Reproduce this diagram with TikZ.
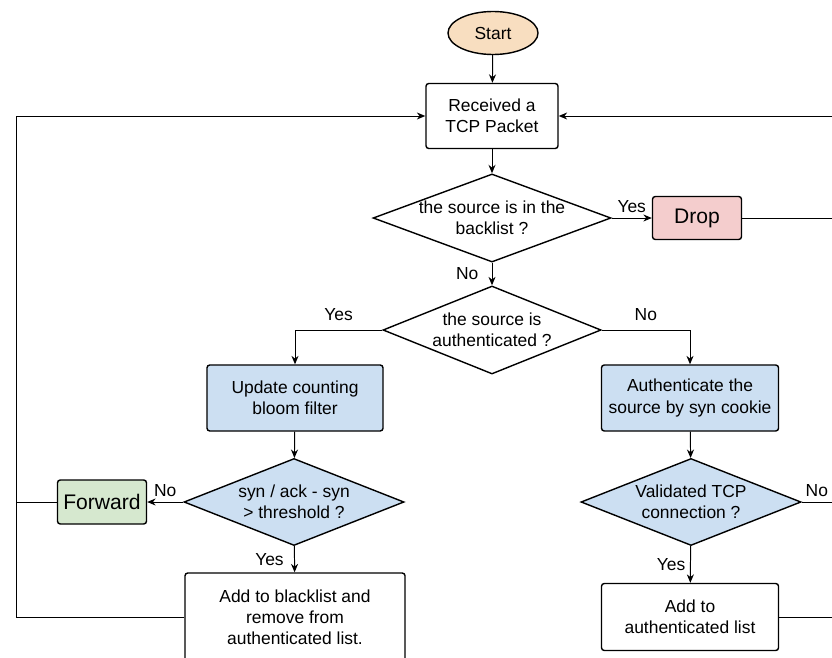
\documentclass[tikz,border=0pt]{standalone}
\usepackage{fontspec}
\setmainfont{Liberation Sans}
\usetikzlibrary{shapes.geometric, arrows.meta}

\definecolor{startfill}{HTML}{F8DEC0}
\definecolor{dropfill}{HTML}{F4CDCD}
\definecolor{procfill}{HTML}{CCDFF2}
\definecolor{fwdfill}{HTML}{D6E8CF}

\begin{document}
\begin{tikzpicture}[>={Stealth[length=6pt, width=5pt]}, x=0.025cm, y=-0.025cm,
        font=\fontsize{12.4}{15}\selectfont, line width=0.7pt,
        box/.style={draw, rectangle, rounded corners=2pt, line width=1pt, align=center},
        decision/.style={draw, diamond, line width=1pt, align=center, inner sep=0pt, shape aspect=2.7},
        bigtext/.style={font=\fontsize{15}{18}\selectfont}]
        \useasboundingbox (0,0) rectangle (832,657);
        \clip (0,0) rectangle (832,657);

        % Start
        \node[draw, ellipse, fill=startfill, line width=1pt, minimum width=2.25cm, minimum height=1.075cm] (start) at (493, 33) {Start};

        % Received packet
        \node[box, minimum width=3.3cm, minimum height=1.625cm] (recv) at (492, 116) {Received a\\TCP Packet};

        % Blacklist check
        \node[decision, minimum width=5.85cm, minimum height=2.125cm] (black) at (492, 218) {the source is in the\\backlist ?};

        % Drop
        \node[box, bigtext, fill=dropfill, minimum width=2.225cm, minimum height=1.075cm] (drop) at (697, 218) {Drop};

        % Authenticated check
        \node[decision, minimum width=5.45cm, minimum height=2.2cm] (authq) at (492, 330) {the source is\\authenticated ?};

        % Update bloom filter
        \node[box, fill=procfill, minimum width=4.4cm, minimum height=1.65cm] (update) at (295, 398) {Update counting\\bloom filter};

        % Threshold check
        \node[decision, fill=procfill, minimum width=5.5cm, minimum height=2.175cm] (thresh) at (294, 502) {syn / ack - syn\\> threshold ?};

        % Forward
        \node[box, bigtext, fill=fwdfill, minimum width=2.225cm, minimum height=1.1cm] (forward) at (102, 502) {Forward};

        % Add to blacklist
        \node[box, minimum width=5.5cm, minimum height=2.2cm] (addblack) at (295, 617) {Add to blacklist and\\remove from\\authenticated list.};

        % Syn cookie
        \node[box, fill=procfill, minimum width=4.425cm, minimum height=1.65cm] (cookie) at (690, 398) {Authenticate the\\source by syn cookie};

        % Validated check
        \node[decision, fill=procfill, minimum width=5.5cm, minimum height=2.175cm] (valid) at (691, 502) {Validated TCP\\connection ?};

        % Add to authenticated list
        \node[box, minimum width=4.425cm, minimum height=1.675cm] (addauth) at (690, 617) {Add to\\authenticated list};

        % Loop-back buses
        \coordinate (leftbus) at (16, 116);
        \coordinate (rightbus) at (845, 116);

        % Relations
        \draw[->] (start) -- (recv);
        \draw[->] (recv) -- (black);
        \draw[->] (black) -- node[midway, above] {Yes} (drop);
        \draw[->] (black) -- node[midway, left=6pt] {No} (authq);
        \draw[->] (authq.west) -| node[pos=0.25, above=3pt] {Yes} (update);
        \draw[->] (authq.east) -| node[pos=0.25, above=3pt] {No} (cookie);
        \draw[->] (update) -- (thresh);
        \draw[->] (thresh) -- node[midway, above] {No} (forward);
        \draw[->] (thresh) -- node[midway, left=4pt] {Yes} (addblack);
        \draw[->] (cookie) -- (valid);
        \draw[->] (valid) -- node[midway, left] {Yes} (addauth);
        \draw (valid.east) -- node[pos=0.35, above] {No} (valid -| rightbus);
        % back to the packet box
        \draw[->] (addblack.west) -| (leftbus) -- (recv.west);
        \draw (forward.west) -- (forward -| leftbus);
        \draw[->] (drop.east) -| (rightbus) -- (recv.east);
        \draw (addauth.east) -- (addauth -| rightbus);
    \end{tikzpicture}
\end{document}
